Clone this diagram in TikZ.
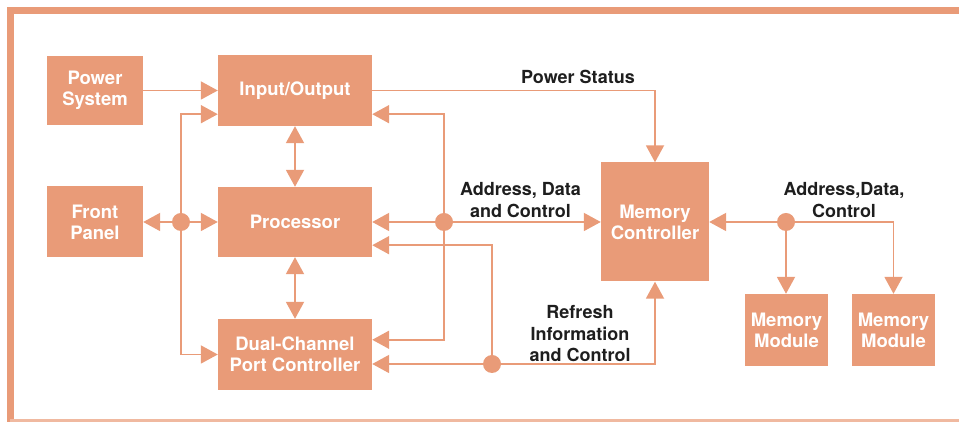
\documentclass[tikz,border=0pt]{standalone}
\usepackage{fontspec}
\setmainfont{TeX Gyre Heros}
\usetikzlibrary{arrows.meta}
\definecolor{hpsalmon}{RGB}{233,155,120}
\definecolor{hpink}{RGB}{30,30,30}
\tikzset{
	blk/.style = {fill = hpsalmon, text = white, align = center, inner sep = 0pt,
		font = \fontsize{18.5}{21}\selectfont\bfseries},
	lbl/.style = {text = hpink, align = center, inner sep = 0pt,
		font = \fontsize{18}{21.5}\selectfont\bfseries},
	jdot/.style = {circle, fill = hpsalmon, minimum size = 18pt, inner sep = 0pt},
	wire/.style = {draw = hpsalmon, line width = 1.9pt},
	tip/.style = {-{Triangle[length = 17pt, width = 18pt]}},
	tips/.style = {{Triangle[length = 17pt, width = 18pt]}-{Triangle[length = 17pt, width = 18pt]}}
}
\begin{document}
\begin{tikzpicture}[x = 1pt, y = 1pt]
		\useasboundingbox (0,0) rectangle (959,422);
		\draw [hpsalmon, line width = 7pt] (959,411) -- (10,411) -- (10,0);
		\draw [hpsalmon!70, line width = 2.5pt] (10,1.5) -- (959,1.5);
		
		\node (pwr) at (95,331.5) [blk, minimum width = 96pt, minimum height = 69pt] {Power\\System};
		\node (io) at (295,331.5) [blk, minimum width = 154pt, minimum height = 71pt] {Input/Output};
		\node (fp) at (95,200) [blk, minimum width = 96pt, minimum height = 71pt] {Front\\Panel};
		\node (proc) at (295,200) [blk, minimum width = 154pt, minimum height = 70pt] {Processor};
		\node (dcpc) at (295,67.5) [blk, minimum width = 154pt, minimum height = 71pt] {Dual-Channel\\Port Controller};
		\node (mc) at (655,200) [blk, minimum width = 108pt, minimum height = 119pt] {Memory\\Controller};
		\node (mm1) at (786.5,92) [blk, minimum width = 83pt, minimum height = 72pt] {Memory\\Module};
		\node (mm2) at (893.5,92) [blk, minimum width = 83pt, minimum height = 72pt] {Memory\\Module};
		
		\node (dl) at (181,200) [jdot] {};
		\node (dr) at (444,200) [jdot] {};
		\node (db) at (492,58) [jdot] {};
		\node (dm) at (786,200) [jdot] {};
		
		\node (ps) at (578,345) [lbl] {Power Status};
		\node (adc) at (520.5,222) [lbl] {Address, Data\\and Control};
		\node (adcm) at (844,222) [lbl] {Address,Data,\\Control};
		\node (ric) at (580,88) [lbl] {Refresh\\Information\\and Control};
		
		\draw [wire, tip] (pwr) -- (io);
		\draw [wire, tip] (io) -| (mc);
		\draw [wire, tips] (io) -- (proc);
		\draw [wire, tips] (proc) -- (dcpc);
		
		\draw [wire, tip] (dl) |- ([yshift = 12pt]io.south west);
		\draw [wire, tip] (dl) |- (dcpc);
		\draw [wire, tip] (dl) -- (fp);
		\draw [wire, tip] (dl) -- (proc);
		
		\draw [wire, tip] (dr) |- ([yshift = 12pt]io.south east);
		\draw [wire, tip] (dr) |- ([yshift = -21pt]dcpc.north east);
		\draw [wire, tip] (dr) -- (proc);
		\draw [wire, tip] (dr) -- (mc);
		
		\draw [wire, tip] (db) -- (db -| dcpc.east);
		\draw [wire, tip] (db) |- ([yshift = 12pt]proc.south east);
		\draw [wire, tip] (db) -| (mc);
		
		\draw [wire, tip] (dm) -- (mc);
		\draw [wire, tip] (dm) -- (dm |- mm1.north);
		\draw [wire, tip] (dm) -| (mm2);
\end{tikzpicture}
\end{document}
